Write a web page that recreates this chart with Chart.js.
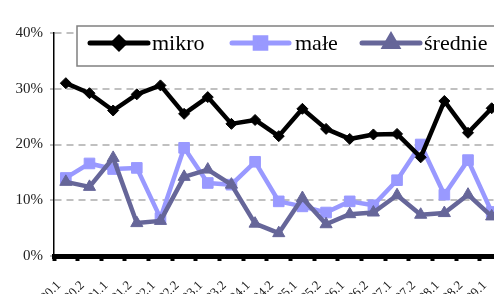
<!DOCTYPE html>
<html>
<head>
<meta charset="utf-8">
<script src="https://cdn.jsdelivr.net/npm/chart.js@4/dist/chart.umd.min.js"></script>
<style>
  html, body { margin: 0; padding: 0; background: #fff; }
  #wrap { width: 494px; height: 294px; overflow: hidden; position: relative; }
  #chart { position: absolute; left: 0; top: 0; }
</style>
</head>
<body>
<div id="wrap"><canvas id="chart" width="512" height="330"></canvas></div>
<script>
// Data (percent)
const periods = ["2000.1", "2000.2", "2001.1", "2001.2", "2002.1", "2002.2", "2003.1", "2003.2",
  "2004.1", "2004.2", "2005.1", "2005.2", "2006.1", "2006.2", "2007.1", "2007.2", "2008.1", "2008.2", "2009.1"];
const mikro = [31.0, 29.2, 26.1, 29.0, 30.6, 25.5, 28.5, 23.7, 24.4, 21.5, 26.4, 22.8, 21.0, 21.8, 21.9, 17.7, 27.8, 22.1, 26.5];
const male = [14.0, 16.6, 15.6, 15.8, 6.8, 19.4, 13.1, 12.8, 16.9, 9.8, 8.9, 7.8, 9.8, 9.1, 13.6, 20.0, 11.0, 17.2, 7.9];
const srednie = [13.3, 12.4, 17.6, 5.9, 6.3, 14.2, 15.5, 12.8, 5.8, 4.1, 10.4, 5.7, 7.5, 7.8, 10.9, 7.4, 7.7, 11.0, 7.1];
const yTicks = [0, 10, 20, 30, 40];

const serif = "'Liberation Serif', 'Times New Roman', serif";

// Legend drawn inside the plot, Excel style
const boxLegend = {
  id: "boxLegend",
  afterDraw(chart) {
    const ctx = chart.ctx;
    ctx.save();
    ctx.fillStyle = "#fff";
    ctx.strokeStyle = "#808080";
    ctx.lineWidth = 1.5;
    ctx.fillRect(77, 26, 440, 40);
    ctx.strokeRect(77, 26, 440, 40);
    const items = [
      { x1: 90, x2: 148, tx: 152 },
      { x1: 232, x2: 289, tx: 295 },
      { x1: 362, x2: 420, tx: 424 }
    ];
    chart.data.datasets.forEach((ds, i) => {
      const it = items[i];
      ctx.strokeStyle = ds.borderColor;
      ctx.lineWidth = 5;
      ctx.lineCap = "round";
      ctx.beginPath();
      ctx.moveTo(it.x1, 43);
      ctx.lineTo(it.x2, 43);
      ctx.stroke();
      ctx.fillStyle = ds.pointBackgroundColor;
      ctx.strokeStyle = ds.borderColor;
      Chart.helpers.drawPoint(ctx, {
        pointStyle: ds.pointStyle, radius: ds.pointRadius, rotation: 0, borderWidth: 1
      }, (it.x1 + it.x2) / 2, 43);
      ctx.fillStyle = "#000";
      ctx.font = "22px " + serif;
      ctx.textBaseline = "alphabetic";
      ctx.fillText(ds.label, it.tx, 50);
    });
    ctx.restore();
  }
};

new Chart(document.getElementById("chart"), {
  type: "line",
  data: {
    labels: periods,
    datasets: [
      {
        label: "mikro",
        data: mikro,
        borderColor: "#000000",
        backgroundColor: "#000000",
        pointBackgroundColor: "#000000",
        pointStyle: "rectRot",
        pointRadius: 5.5,
        borderWidth: 4.5,
        pointBorderWidth: 1,
        order: 0
      },
      {
        label: "małe",
        data: male,
        borderColor: "#9999FF",
        backgroundColor: "#9999FF",
        pointBackgroundColor: "#9999FF",
        pointStyle: "rect",
        pointRadius: 7.5,
        borderWidth: 4.5,
        pointBorderWidth: 1,
        order: 2
      },
      {
        label: "średnie",
        data: srednie,
        borderColor: "#666699",
        backgroundColor: "#666699",
        pointBackgroundColor: "#666699",
        pointStyle: "triangle",
        pointRadius: 7,
        borderWidth: 4.5,
        pointBorderWidth: 1,
        order: 1
      }
    ]
  },
  options: {
    responsive: false,
    animation: false,
    devicePixelRatio: 1,
    layout: { padding: { top: 33, left: 0, right: 6, bottom: 0 } },
    elements: { line: { tension: 0, borderJoinStyle: "round", borderCapStyle: "round" } },
    plugins: { legend: { display: false }, tooltip: { enabled: false } },
    scales: {
      x: {
        offset: true,
        afterFit(scale) {
          scale.height = 74;
          scale.paddingLeft = 0;
          scale.paddingRight = 0;
        },
        grid: {
          offset: true,
          drawOnChartArea: false,
          drawTicks: true,
          tickLength: 5,
          tickWidth: 4,
          tickColor: "#000"
        },
        border: { color: "#000", width: 5 },
        ticks: {
          autoSkip: false,
          minRotation: 45,
          maxRotation: 45,
          padding: 17,
          labelOffset: -7,
          color: "#222",
          font: { family: serif, size: 13 }
        }
      },
      y: {
        min: 0,
        max: 40,
        afterFit(scale) { scale.width = 54; },
        afterBuildTicks(scale) { scale.ticks = yTicks.map(v => ({ value: v })); },
        grid: {
          color: "#C0C0C0",
          lineWidth: 2,
          tickLength: 4,
          tickColor: "#C0C0C0"
        },
        border: { color: "#000", width: 1.5, dash: [7, 5] },
        ticks: {
          padding: 7,
          color: "#222",
          font: { family: serif, size: 15 },
          callback: v => v + "%"
        }
      }
    }
  },
  plugins: [boxLegend]
});
</script>
</body>
</html>
